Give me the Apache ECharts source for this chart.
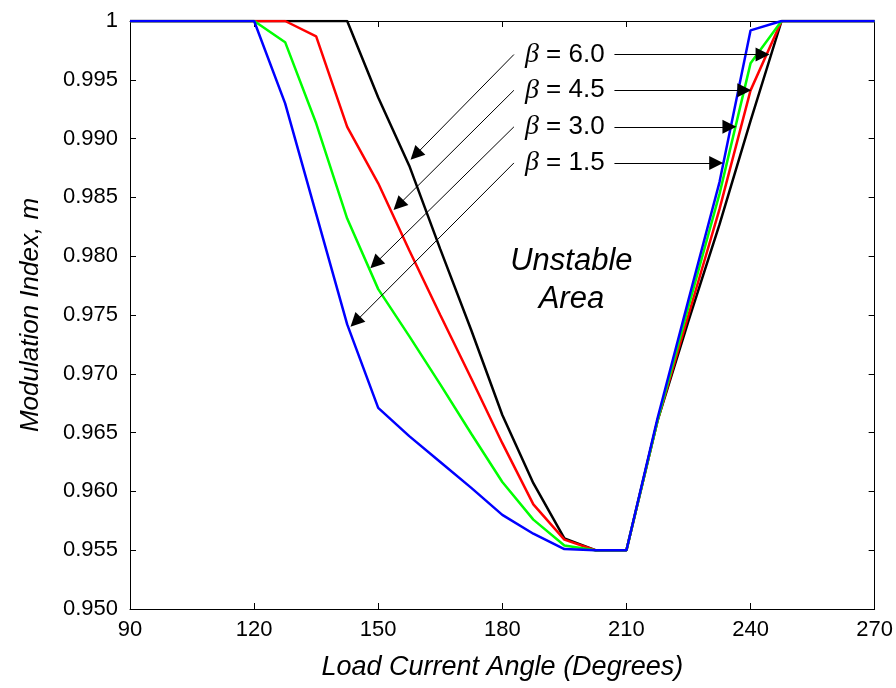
<!DOCTYPE html>
<html>
<head>
<meta charset="utf-8">
<script src="https://cdn.jsdelivr.net/npm/echarts@6/dist/echarts.min.js"></script>
<style>
  html, body { margin: 0; padding: 0; background: #fff; }
  #main { width: 896px; height: 688px; }
</style>
</head>
<body>
<div id="main"></div>
<script>
// angles in degrees, one sample every 7.5 deg
var angles = [90, 97.5, 105, 112.5, 120, 127.5, 135, 142.5, 150, 157.5, 165, 172.5, 180,
  187.5, 195, 202.5, 210, 217.5, 225, 232.5, 240, 247.5, 255, 262.5, 270];

var beta60 = [1, 1, 1, 1, 1, 1, 1, 1, 0.9935, 0.9877, 0.9806, 0.9737, 0.9665,
  0.9607, 0.9560, 0.9550, 0.9550, 0.9660, 0.9745, 0.9827, 0.9915, 1, 1, 1, 1];
var beta45 = [1, 1, 1, 1, 1, 1, 0.9987, 0.9910, 0.9862, 0.9805, 0.9750, 0.9696, 0.9641,
  0.9589, 0.9559, 0.9550, 0.9550, 0.9660, 0.9750, 0.9840, 0.9941, 1, 1, 1, 1];
var beta30 = [1, 1, 1, 1, 1, 0.9982, 0.9913, 0.9832, 0.9772, 0.9732, 0.9691, 0.9649, 0.9608,
  0.9576, 0.9554, 0.9550, 0.9550, 0.9660, 0.9757, 0.9853, 0.9964, 1, 1, 1, 1];
var beta15 = [1, 1, 1, 1, 1, 0.9930, 0.9836, 0.9742, 0.9671, 0.9647, 0.9625, 0.9603, 0.9580,
  0.9564, 0.9551, 0.9550, 0.9550, 0.9662, 0.9763, 0.9863, 0.9992, 1, 1, 1, 1];

// annotation arrows (data units), ends at the arrowhead centres
var betaNames = ['6.0', '4.5', '3.0', '1.5'];
var rowY = [0.99715, 0.99411, 0.99100, 0.98793];
var leftStartX = 182.8;
var rightStartX = 207.1;
var leftTips = [[159.0, 0.98862], [154.9, 0.98435], [149.3, 0.97939], [144.5, 0.97442]];
var rightTipX = [242.9, 238.5, 234.9, 231.7];

function pair(x, y) { return [x, y]; }

var chart = echarts.init(document.getElementById('main'));

var arrowLines = [];
for (var i = 0; i < betaNames.length; i++) {
  arrowLines.push([{ coord: [leftStartX, rowY[i]] }, { coord: leftTips[i] }]);
  arrowLines.push([{ coord: [rightStartX, rowY[i]] }, { coord: [rightTipX[i], rowY[i]] }]);
}

var seriesList = [
  { name: 'b60', data: beta60, color: '#000000' },
  { name: 'b45', data: beta45, color: '#ff0000' },
  { name: 'b30', data: beta30, color: '#00ff00' },
  { name: 'b15', data: beta15, color: '#0000ff' }
].map(function (s) {
  return {
    name: s.name,
    type: 'line',
    symbol: 'none',
    silent: true,
    data: angles.map(function (a, i) { return pair(a, s.data[i]); }),
    lineStyle: { color: s.color, width: 2.5 },
    itemStyle: { color: s.color }
  };
});

// arrows hang on the black series
seriesList[0].markLine = {
  silent: true,
  symbol: ['none', 'triangle'],
  symbolSize: 14,
  label: { show: false },
  itemStyle: { color: '#000' },
  lineStyle: { color: '#000', width: 1, type: 'solid' },
  emphasis: { disabled: true },
  data: arrowLines
};

var font = 'Arial, "Liberation Sans", sans-serif';
var tickCommon = { show: true, inside: true, length: 6, lineStyle: { color: '#000', width: 1 } };
var lineCommon = { show: true, onZero: false, lineStyle: { color: '#000', width: 1 } };

chart.setOption({
  animation: false,
  backgroundColor: '#fff',
  grid: { left: 130, right: 19, top: 21, bottom: 79, containLabel: false },
  xAxis: [
    {
      type: 'value', min: 90, max: 270, interval: 30,
      axisLine: lineCommon, axisTick: tickCommon, splitLine: { show: false },
      axisLabel: { color: '#000', fontSize: 22, fontFamily: font, margin: 10 },
      name: 'Load Current Angle (Degrees)', nameLocation: 'middle', nameGap: 45,
      nameTextStyle: { color: '#000', fontSize: 27, fontStyle: 'italic', fontFamily: font }
    },
    {
      type: 'value', position: 'top', min: 90, max: 270, interval: 30,
      axisLine: lineCommon, axisTick: tickCommon, splitLine: { show: false },
      axisLabel: { show: false }
    }
  ],
  yAxis: [
    {
      type: 'value', min: 0.95, max: 1, interval: 0.005,
      axisLine: lineCommon, axisTick: tickCommon, splitLine: { show: false },
      axisLabel: {
        color: '#000', fontSize: 22, fontFamily: font, margin: 12,
        formatter: function (v) { return v > 0.9999 ? '1' : v.toFixed(3); }
      },
      name: 'Modulation Index, m', nameLocation: 'middle', nameGap: 86,
      nameTextStyle: { color: '#000', fontSize: 26, fontStyle: 'italic', fontFamily: font }
    },
    {
      type: 'value', position: 'right', min: 0.95, max: 1, interval: 0.005,
      axisLine: lineCommon, axisTick: tickCommon, splitLine: { show: false },
      axisLabel: { show: false }
    }
  ],
  series: seriesList
});

// texts placed from data coordinates
var graphics = [];
for (var j = 0; j < betaNames.length; j++) {
  var p = chart.convertToPixel({ gridIndex: 0 }, [leftStartX, rowY[j]]);
  graphics.push({
    type: 'text',
    x: p[0] + 11,
    y: p[1],
    silent: true,
    style: {
      text: '{b|β} = ' + betaNames[j],
      fill: '#000',
      font: '26px ' + font,
      verticalAlign: 'middle',
      rich: {
        b: { fontFamily: '"Liberation Serif", serif', fontStyle: 'italic', fontSize: 28, fill: '#000' }
      }
    }
  });
}
var c = chart.convertToPixel({ gridIndex: 0 }, [196.7, 0.97792]);
graphics.push({
  type: 'text', x: c[0], y: c[1], silent: true,
  style: {
    text: 'Unstable\nArea', fill: '#000', font: 'italic 31px ' + font,
    align: 'center', verticalAlign: 'middle', lineHeight: 38
  }
});
chart.setOption({ graphic: graphics });
</script>
</body>
</html>
